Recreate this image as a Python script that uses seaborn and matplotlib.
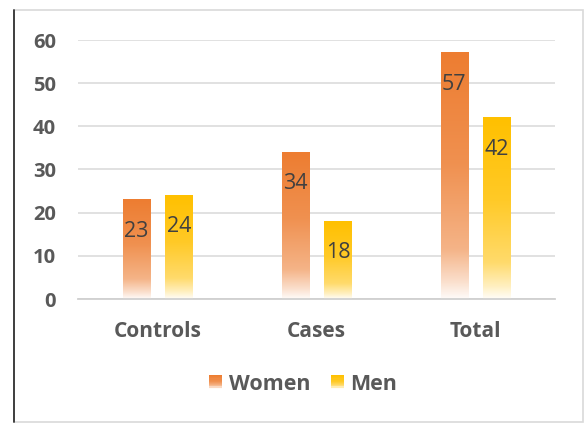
import numpy as np
import pandas as pd
import matplotlib
matplotlib.use("Agg")
import matplotlib.pyplot as plt
from matplotlib.patches import Rectangle
from matplotlib.lines import Line2D
from matplotlib.legend_handler import HandlerBase
import seaborn as sns

# Data
groups = ["Controls", "Cases", "Total"]
women = [23, 34, 57]
men = [24, 18, 42]
series_names = ["Women", "Men"]
y_ticks = [0, 10, 20, 30, 40, 50, 60]

colors = {"Women": "#ED7D31", "Men": "#FFC000"}

df = pd.DataFrame({
    "group": groups * 2,
    "sex": ["Women"] * len(groups) + ["Men"] * len(groups),
    "count": women + men,
})

sns.set_theme(style="white")
plt.rcParams["font.family"] = ["Open Sans", "DejaVu Sans"]

W, H = 584, 423
fig = plt.figure(figsize=(W / 100, H / 100), dpi=100)
fig.patch.set_facecolor("white")
ax = fig.add_axes([78 / W, 1 - 299 / H, (555 - 78) / W, (299 - 40) / H])

sns.barplot(data=df, x="group", y="count", hue="sex", order=groups,
            hue_order=series_names, palette=colors, saturation=1,
            width=0.54, gap=0.37, legend=False, ax=ax)


def fade(base, n=200):
    """Vertical ramp from the solid colour at the top to white at the bottom."""
    rgb = np.array(matplotlib.colors.to_rgb(base))
    t = np.linspace(0, 1, n)
    w = np.interp(t, [0.0, 0.45, 0.8, 0.93, 1.0], [0.0, 0.15, 0.42, 0.75, 0.97])
    img = rgb[None, :] * (1 - w[:, None]) + w[:, None]
    return img[:, None, :]


hex_to_name = {matplotlib.colors.to_hex(c): k for k, c in colors.items()}
for p in list(ax.patches):
    fc = matplotlib.colors.to_hex(p.get_facecolor()[:3])
    name = hex_to_name.get(fc)
    if name is None:
        continue
    x0, w, h = p.get_x(), p.get_width(), p.get_height()
    p.set_facecolor("none")
    p.set_edgecolor("none")
    ax.imshow(fade(colors[name]), extent=[x0, x0 + w, 0, h], aspect="auto",
              origin="upper", zorder=2, interpolation="bilinear")
    ax.annotate(f"{h:.0f}", xy=(x0 + w / 2, h), xytext=(0, -37),
                textcoords="offset pixels", ha="center", va="baseline",
                fontsize=15.5, color="#404040", zorder=3)

ax.set_xlim(-0.5, 2.5)
ax.set_ylim(0, 60)
ax.set_yticks(y_ticks)
ax.set_xlabel("")
ax.set_ylabel("")
ax.yaxis.grid(True, color="#d9d9d9", linewidth=1.1)
ax.set_axisbelow(True)
for side in ["top", "right", "left"]:
    ax.spines[side].set_visible(False)
ax.spines["bottom"].set_color("#d0d0d0")
ax.spines["bottom"].set_linewidth(1.3)
ax.tick_params(axis="both", length=0)
ax.tick_params(axis="y", pad=15.8, labelsize=14.5, labelcolor="#595959")
ax.tick_params(axis="x", pad=15.5, labelsize=15, labelcolor="#595959")
plt.setp(ax.get_xticklabels(), fontweight="bold")
plt.setp(ax.get_yticklabels(), fontweight="bold")


class FadeHandler(HandlerBase):
    def create_artists(self, legend, orig_handle, xdescent, ydescent,
                       width, height, fontsize, trans):
        img = fade(orig_handle.get_facecolor(), n=12)[:, 0, :]
        n = len(img)
        arts = []
        for i, c in enumerate(img):
            y = -ydescent + height * (1 - (i + 1) / n)
            arts.append(Rectangle((-xdescent, y), width, height / n,
                                  facecolor=c, edgecolor="none",
                                  transform=trans))
        return arts


handles = [Rectangle((0, 0), 1, 1, facecolor=colors[s]) for s in series_names]
leg = fig.legend(handles, series_names, loc="center",
                 bbox_to_anchor=(303 / W, 1 - 384 / H), ncol=2, frameon=False,
                 handler_map={Rectangle: FadeHandler()},
                 prop={"size": 15.5, "weight": "bold"},
                 handlelength=0.63, handleheight=0.6, handletextpad=0.3,
                 columnspacing=0.95, borderpad=0)
for t in leg.get_texts():
    t.set_color("#595959")

# Chart-area frame
fig.add_artist(Rectangle((13.5 / W, 1 - 421.5 / H), (582.5 - 13.5) / W,
                         (421.5 - 10.5) / H, transform=fig.transFigure,
                         facecolor="none", edgecolor="#d9d9d9", linewidth=1.2))
fig.add_artist(Line2D([13.5 / W, 13.5 / W], [1 - 421.5 / H, 1 - 10.5 / H],
                      transform=fig.transFigure, color="#333333", linewidth=1.3))

fig.savefig("out.png", dpi=100, facecolor="white")
